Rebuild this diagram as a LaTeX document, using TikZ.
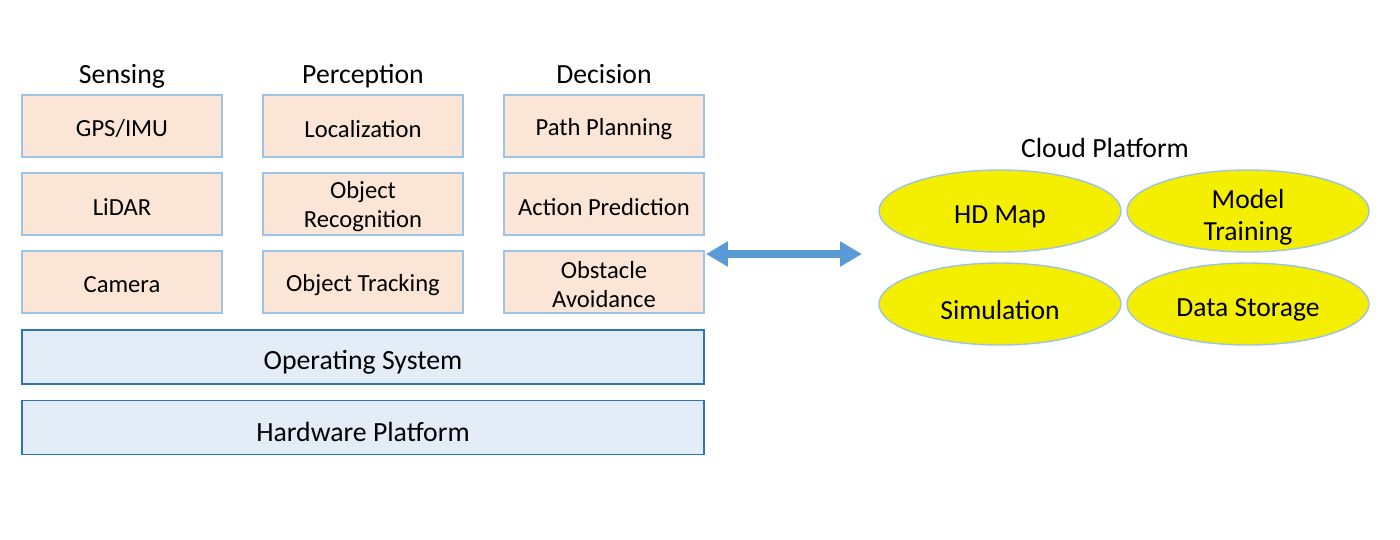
\documentclass[tikz,border=0pt]{standalone}
\usepackage{fontspec}
\setmainfont{Carlito}
\usetikzlibrary{shapes.geometric,arrows.meta}
\definecolor{peach}{HTML}{FBE5D6}
\definecolor{lblue}{HTML}{9DC3E6}
\definecolor{paleblue}{HTML}{E2EDF8}
\definecolor{dblue}{HTML}{2E75B6}
\definecolor{yell}{HTML}{F4EE00}
\definecolor{arrblue}{HTML}{5B9BD5}
\tikzset{
  modbox/.style={draw=lblue, fill=peach, line width=0.8pt, minimum width=200*0.02cm, minimum height=62*0.02cm, inner sep=0pt,
    label={[align=center, inner sep=0pt, yshift=-1.6pt, font=\fontsize{14}{16.4}\selectfont]center:#1}},
  layerbox/.style={draw=dblue, fill=paleblue, line width=0.8pt, minimum width=682*0.02cm, minimum height=54*0.02cm, inner sep=0pt,
    label={[inner sep=0pt, yshift=-2.8pt, font=\fontsize{15.8}{18}\selectfont]center:#1}},
  cloud/.style={ellipse, draw=lblue, fill=yell, line width=0.8pt, minimum width=242*0.02cm, minimum height=82*0.02cm, inner sep=0pt,
    label={[align=center, inner sep=0pt, yshift=-3.6pt, font=\fontsize{15.7}{18.7}\selectfont]center:#1}},
  title/.style={font=\fontsize{15.8}{18}\selectfont, inner sep=0pt, anchor=base}
}
\begin{document}
\begin{tikzpicture}[x=0.02cm,y=-0.02cm]
\useasboundingbox (0,0) rectangle (1400,539);
\node[title] (tsen) at (122,83) {Sensing};
\node[title] (tper) at (363,83) {Perception};
\node[title] (tdec) at (604,83) {Decision};
\node[modbox={GPS/IMU}] (gps) at (122,126) {};
\node[modbox={LiDAR}] (lidar) at (122,204) {};
\node[modbox={Camera}] (cam) at (122,282) {};
\node[modbox={Localization}] (loc) at (363,126) {};
\node[modbox={Object\\Recognition}] (orec) at (363,204) {};
\node[modbox={Object Tracking}] (otrk) at (363,282) {};
\node[modbox={Path Planning}] (path) at (604,126) {};
\node[modbox={Action Prediction}] (act) at (604,204) {};
\node[modbox={Obstacle\\Avoidance}] (obs) at (604,282) {};
\node[layerbox={Operating System}] (os) at (363,357) {};
\node[layerbox={Hardware Platform}] (hw) at (363,427.5) {};
\node[title] (tcloud) at (1105,157.5) {Cloud Platform};
\node[cloud={HD Map}] (hd) at (1000,211) {};
\node[cloud={Model\\Training}] (mt) at (1248,211) {};
\node[cloud={Simulation}] (sim) at (1000,304) {};
\node[cloud={Data Storage}] (ds) at (1248,304) {};
\coordinate (al) at (706,254);
\coordinate (ar) at (862,254);
\draw[arrblue, line width=8*0.567pt, {Triangle[length=22*0.567pt,width=24*0.567pt]}-{Triangle[length=22*0.567pt,width=24*0.567pt]}] (al) -- (ar);
\end{tikzpicture}
\end{document}
